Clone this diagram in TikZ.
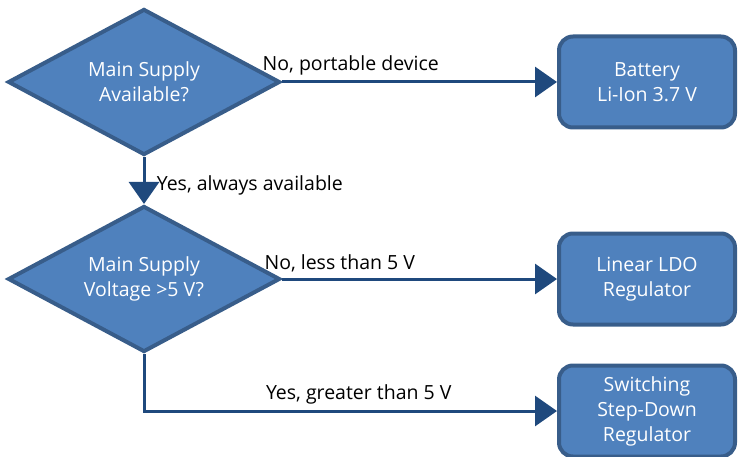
\documentclass[tikz,border=0pt]{standalone}
\usepackage{fontspec}
\setmainfont{Open Sans}
\usetikzlibrary{arrows.meta,shapes.geometric}
\definecolor{shapefill}{HTML}{4F81BD}
\definecolor{shapeedge}{HTML}{385D8A}
\definecolor{arrowblue}{HTML}{1F497D}
\begin{document}
\begin{tikzpicture}[x=1pt,y=-1pt,font=\fontsize{19.5}{25}\selectfont]
				\tikzstyle{decision} = [diamond, aspect=1.87, draw=shapeedge, line width=4pt, fill=shapefill, text=white, align=center, minimum width=272pt, minimum height=146pt, inner sep=0pt]
				\tikzstyle{block} = [rectangle, draw=shapeedge, line width=4pt, fill=shapefill, text=white, align=center, rounded corners=14pt, minimum width=176pt, minimum height=91pt]
				\tikzstyle{line} = [draw=arrowblue, line width=3pt, -{Triangle[length=22pt,width=30pt]}]
				\tikzstyle{label} = [text=black, above=5pt, inner sep=0pt]
				\useasboundingbox (0,0) rectangle (738,457);

				\node [decision] at (144,82) (Netz) {Main Supply\\Available?};
				\node [block] at (647,82) (Akku) {Battery\\Li-Ion 3.7 V};
				\path [line] (Netz) -- node [label, pos=0.25] {No, portable device} (Akku);
				\node [decision, below of=Netz, node distance=197pt] (Spannung) {Main Supply\\Voltage >5 V?};
				\path [line] (Netz) -- node [right, text=black, xshift=8pt, yshift=-5pt] {Yes, always available} (Spannung);
				\node [block, right of=Spannung, node distance=503pt] (LDO) {Linear LDO\\Regulator};
				\path [line] (Spannung) -- node [label, pos=0.21] {No, less than 5 V} (LDO);
				\node [block, below of=LDO, node distance=132pt] (Buck) {Switching\\Step-Down\\Regulator};
				\path [line] (Spannung) |- node [label, pos=0.76] {Yes, greater than 5 V} (Buck);
			\end{tikzpicture}
\end{document}
